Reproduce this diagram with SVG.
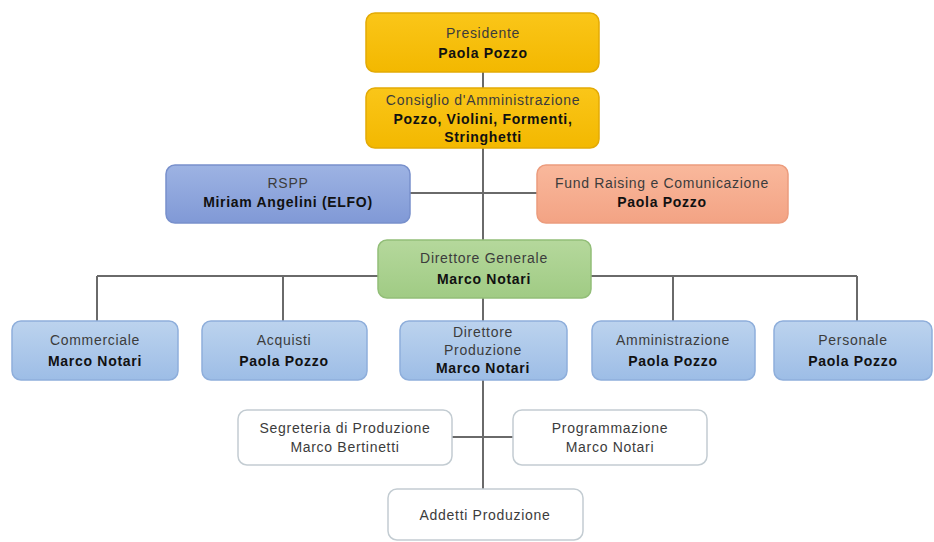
<svg xmlns="http://www.w3.org/2000/svg" width="934" height="542" viewBox="0 0 934 542">
<defs>
<linearGradient id="gGold" x1="0" y1="0" x2="0" y2="1"><stop offset="0" stop-color="#FAC619"/><stop offset="1" stop-color="#F3B800"/></linearGradient>
<linearGradient id="gRspp" x1="0" y1="0" x2="0" y2="1"><stop offset="0" stop-color="#9DB3E3"/><stop offset="1" stop-color="#8099D6"/></linearGradient>
<linearGradient id="gFund" x1="0" y1="0" x2="0" y2="1"><stop offset="0" stop-color="#F9B89C"/><stop offset="1" stop-color="#F3A384"/></linearGradient>
<linearGradient id="gDg" x1="0" y1="0" x2="0" y2="1"><stop offset="0" stop-color="#B5D89C"/><stop offset="1" stop-color="#A0CB84"/></linearGradient>
<linearGradient id="gBlue" x1="0" y1="0" x2="0" y2="1"><stop offset="0" stop-color="#BCD3EE"/><stop offset="1" stop-color="#9DBDE6"/></linearGradient>
</defs>
<style>
.box{stroke-width:1.5}
.gold{fill:url(#gGold);stroke:#E3AA05}
.rspp{fill:url(#gRspp);stroke:#7890CC}
.fund{fill:url(#gFund);stroke:#EC9C7D}
.dg{fill:url(#gDg);stroke:#92BE78}
.blue{fill:url(#gBlue);stroke:#8EAEDB}
.white{fill:#FFFFFF;stroke:#C3CCD2}
text{font-family:"Liberation Sans",Arial,sans-serif;font-size:14px;letter-spacing:0.7px;text-anchor:middle}
.r{fill:#3C3C3C}
.b{fill:#111111;font-weight:bold}
.ln{stroke:#6A6A6A;stroke-width:2;fill:none}
</style>
<g id="connectors">
<line class="ln" x1="483" y1="72" x2="483" y2="490"/>
<line class="ln" x1="410" y1="193" x2="537" y2="193"/>
<line class="ln" x1="97" y1="276" x2="857" y2="276"/>
<line class="ln" x1="97" y1="276" x2="97" y2="322"/>
<line class="ln" x1="283" y1="276" x2="283" y2="322"/>
<line class="ln" x1="673" y1="276" x2="673" y2="322"/>
<line class="ln" x1="857" y1="276" x2="857" y2="322"/>
<line class="ln" x1="452" y1="437" x2="513" y2="437"/>
</g>
<g id="presidente">
<rect class="box gold" x="366" y="13" width="233" height="59" rx="9"/>
<text class="r" x="483" y="38">Presidente</text>
<text class="b" x="483" y="58">Paola Pozzo</text>
</g>
<g id="consiglio">
<rect class="box gold" x="366" y="88" width="233" height="60" rx="9"/>
<text class="r" x="483" y="105">Consiglio d'Amministrazione</text>
<text class="b" x="483" y="124">Pozzo, Violini, Formenti,</text>
<text class="b" x="483" y="142">Stringhetti</text>
</g>
<g id="rspp">
<rect class="box rspp" x="166" y="165" width="244" height="58" rx="9"/>
<text class="r" x="288" y="188">RSPP</text>
<text class="b" x="288" y="207">Miriam Angelini (ELFO)</text>
</g>
<g id="fundraising">
<rect class="box fund" x="537" y="165" width="251" height="58" rx="9"/>
<text class="r" x="662" y="188">Fund Raising e Comunicazione</text>
<text class="b" x="662" y="207">Paola Pozzo</text>
</g>
<g id="direttore-generale">
<rect class="box dg" x="378" y="240" width="213" height="58" rx="9"/>
<text class="r" x="484" y="263">Direttore Generale</text>
<text class="b" x="484" y="284">Marco Notari</text>
</g>
<g id="commerciale">
<rect class="box blue" x="12" y="321" width="166" height="59" rx="9"/>
<text class="r" x="95" y="345">Commerciale</text>
<text class="b" x="95" y="366">Marco Notari</text>
</g>
<g id="acquisti">
<rect class="box blue" x="202" y="321" width="165" height="59" rx="9"/>
<text class="r" x="284" y="345">Acquisti</text>
<text class="b" x="284" y="366">Paola Pozzo</text>
</g>
<g id="direttore-produzione">
<rect class="box blue" x="400" y="321" width="167" height="59" rx="9"/>
<text class="r" x="483" y="337">Direttore</text>
<text class="r" x="483" y="355">Produzione</text>
<text class="b" x="483" y="373">Marco Notari</text>
</g>
<g id="amministrazione">
<rect class="box blue" x="592" y="321" width="163" height="59" rx="9"/>
<text class="r" x="673" y="345">Amministrazione</text>
<text class="b" x="673" y="366">Paola Pozzo</text>
</g>
<g id="personale">
<rect class="box blue" x="774" y="321" width="158" height="59" rx="9"/>
<text class="r" x="853" y="345">Personale</text>
<text class="b" x="853" y="366">Paola Pozzo</text>
</g>
<g id="segreteria">
<rect class="box white" x="238" y="410" width="214" height="55" rx="9"/>
<text class="r" x="345" y="433">Segreteria di Produzione</text>
<text class="r" x="345" y="452">Marco Bertinetti</text>
</g>
<g id="programmazione">
<rect class="box white" x="513" y="410" width="194" height="55" rx="9"/>
<text class="r" x="610" y="433">Programmazione</text>
<text class="r" x="610" y="452">Marco Notari</text>
</g>
<g id="addetti">
<rect class="box white" x="388" y="489" width="195" height="51" rx="9"/>
<text class="r" x="485" y="520">Addetti Produzione</text>
</g>
</svg>
